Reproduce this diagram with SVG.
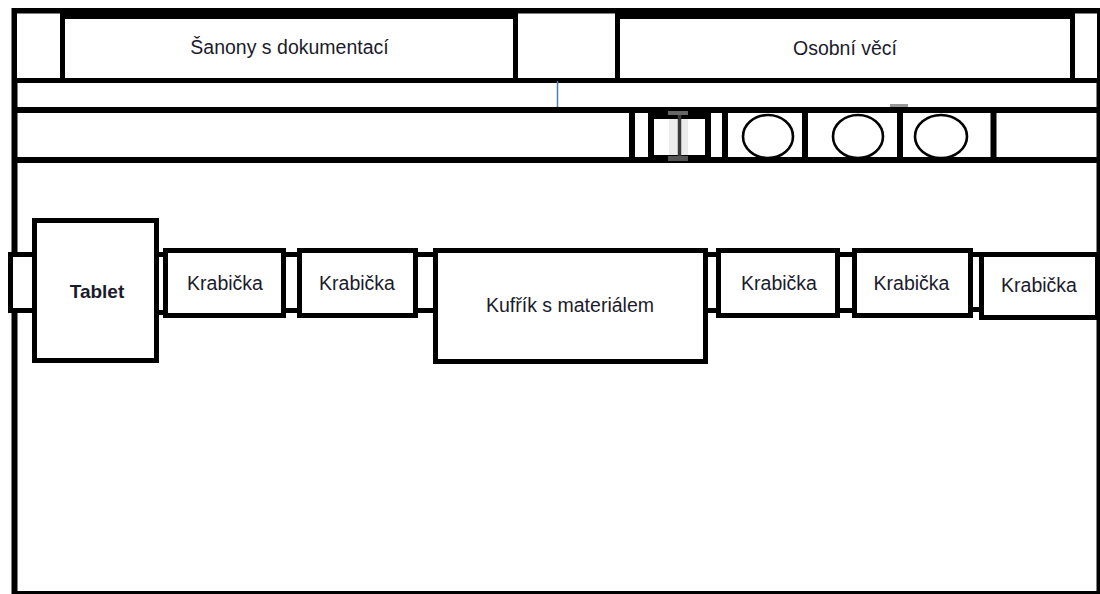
<svg xmlns="http://www.w3.org/2000/svg" width="1100" height="594" viewBox="0 0 1100 594">
<style>
.b{fill:#fff;stroke:#000;stroke-width:5}
.t{font-family:"Liberation Sans",Arial,sans-serif;font-size:19.5px;fill:#1b1b2b;text-anchor:middle}
.bold{font-weight:bold;font-size:19px}
.bar{stroke:#000;stroke-width:6}
.c{fill:none;stroke:#000;stroke-width:2.6}
</style>
<rect width="1100" height="594" fill="#fff"/>
<g id="frame">
<rect x="14.5" y="11" width="1085" height="583" fill="none" stroke="#000" stroke-width="6"/>
</g>
<g id="top-row">
<rect id="top-left" class="b" x="14.5" y="11" width="48" height="69.5"/>
<rect id="top-middle" class="b" x="515.5" y="11" width="102" height="69.5"/>
<rect id="top-right" class="b" x="1072.5" y="11" width="27" height="69.5"/>
</g>
<g id="sanony">
<rect class="b" x="62.5" y="16.5" width="453" height="64"/>
<text class="t" x="289.5" y="54">Šanony s dokumentací</text>
</g>
<g id="osobni">
<rect class="b" x="617.5" y="16.5" width="455" height="64"/>
<text class="t" x="845" y="55">Osobní věcí</text>
</g>
<g id="police">
<line class="bar" x1="14.5" y1="110" x2="1099.5" y2="110"/>
<line class="bar" x1="14.5" y1="160" x2="1099.5" y2="160"/>
<line x1="557.5" y1="81" x2="557.5" y2="107" stroke="#4a7ebb" stroke-width="1.5"/>
<line class="bar" x1="632" y1="107" x2="632" y2="163"/>
<rect x="651" y="116" width="57" height="42" fill="#fff" stroke="#000" stroke-width="6"/>
<rect x="669" y="119" width="19" height="36" fill="#ececec"/>
<line x1="679.5" y1="113" x2="679.5" y2="158" stroke="#3a3a3a" stroke-width="3.5"/>
<rect x="668" y="111" width="20" height="4" fill="#666"/>
<rect x="668" y="156" width="20" height="5" fill="#555"/>
<line class="bar" x1="725" y1="107" x2="725" y2="163"/>
<line class="bar" x1="805" y1="107" x2="805" y2="163"/>
<line class="bar" x1="900" y1="107" x2="900" y2="163"/>
<line class="bar" x1="993.5" y1="107" x2="993.5" y2="163"/>
<rect x="890" y="104" width="18" height="3" fill="#999"/>
<ellipse class="c" cx="768" cy="136.5" rx="25" ry="21.5"/>
<ellipse class="c" cx="858" cy="136.5" rx="25" ry="21.5"/>
<ellipse class="c" cx="941" cy="136.5" rx="26" ry="21.5"/>
</g>
<g id="connectors">
<rect class="b" x="10.5" y="254.5" width="24" height="56"/>
<rect class="b" x="156.5" y="254.5" width="9" height="58"/>
<rect class="b" x="283.5" y="254.5" width="16" height="56"/>
<rect class="b" x="415.5" y="254.5" width="20" height="56"/>
<rect class="b" x="705.5" y="254.5" width="13" height="56"/>
<rect class="b" x="837.5" y="254.5" width="17" height="56"/>
<rect class="b" x="970.5" y="254.5" width="11" height="55"/>
</g>
<g id="tablet">
<rect class="b" x="34.5" y="220.5" width="122" height="140"/>
<text class="t bold" x="97" y="298">Tablet</text>
</g>
<g id="krabicka-1">
<rect class="b" x="165.5" y="250.5" width="118" height="65"/>
<text class="t" x="225" y="290">Krabička</text>
</g>
<g id="krabicka-2">
<rect class="b" x="299.5" y="250.5" width="116" height="65"/>
<text class="t" x="357" y="290">Krabička</text>
</g>
<g id="kufrik">
<rect class="b" x="435.5" y="250.5" width="270" height="111"/>
<text class="t" x="570" y="312">Kufřík s materiálem</text>
</g>
<g id="krabicka-4">
<rect class="b" x="718.5" y="250.5" width="119" height="65"/>
<text class="t" x="779" y="290">Krabička</text>
</g>
<g id="krabicka-5">
<rect class="b" x="854.5" y="250.5" width="116" height="65"/>
<text class="t" x="911.5" y="290">Krabička</text>
</g>
<g id="krabicka-6">
<rect class="b" x="981.5" y="254.5" width="116" height="63"/>
<text class="t" x="1039" y="292">Krabička</text>
</g>
</svg>
